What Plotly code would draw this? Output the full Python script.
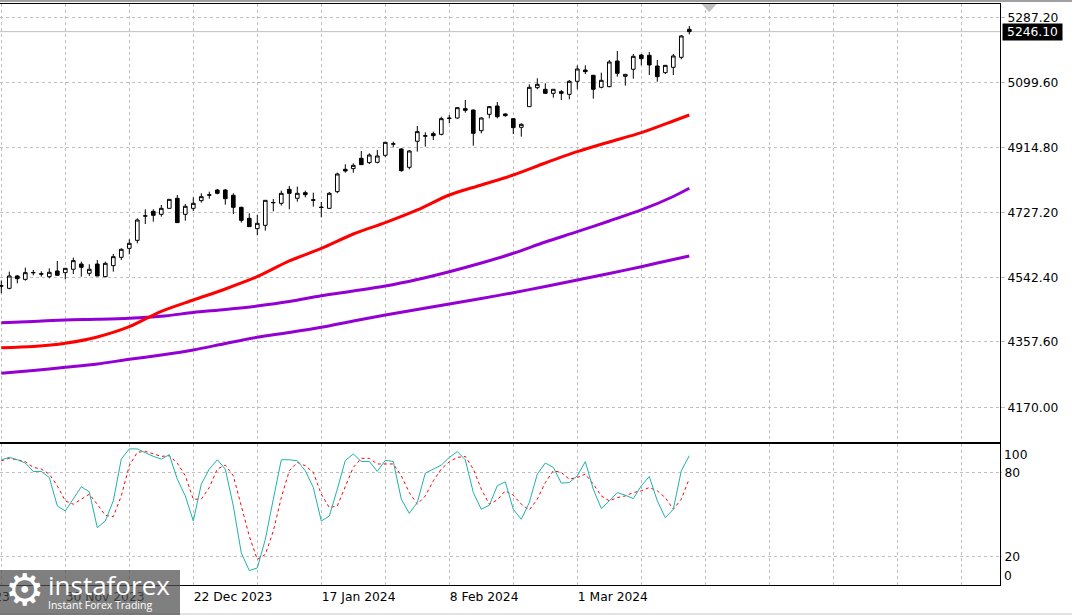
import plotly.graph_objects as go
from datetime import datetime

# ---------------- data ----------------
dates = [
    "2023-11-20", "2023-11-21", "2023-11-22", "2023-11-23", "2023-11-24", "2023-11-27", "2023-11-28", "2023-11-29",
    "2023-11-30", "2023-12-01", "2023-12-04", "2023-12-05", "2023-12-06", "2023-12-07", "2023-12-08",
    "2023-12-11", "2023-12-12", "2023-12-13", "2023-12-14", "2023-12-15", "2023-12-18", "2023-12-19",
    "2023-12-20", "2023-12-21", "2023-12-22", "2023-12-26", "2023-12-27", "2023-12-28", "2023-12-29",
    "2024-01-02", "2024-01-03", "2024-01-04", "2024-01-05", "2024-01-08", "2024-01-09", "2024-01-10",
    "2024-01-11", "2024-01-12", "2024-01-15", "2024-01-16", "2024-01-17", "2024-01-18", "2024-01-19",
    "2024-01-22", "2024-01-23", "2024-01-24", "2024-01-25", "2024-01-26", "2024-01-29", "2024-01-30",
    "2024-01-31", "2024-02-01", "2024-02-02", "2024-02-05", "2024-02-06", "2024-02-07", "2024-02-08",
    "2024-02-09", "2024-02-12", "2024-02-13", "2024-02-14", "2024-02-15", "2024-02-16", "2024-02-19",
    "2024-02-20", "2024-02-21", "2024-02-22", "2024-02-23", "2024-02-26", "2024-02-27", "2024-02-28",
    "2024-02-29", "2024-03-01", "2024-03-04", "2024-03-05", "2024-03-06", "2024-03-07", "2024-03-08",
    "2024-03-11", "2024-03-12", "2024-03-13", "2024-03-14", "2024-03-15", "2024-03-18", "2024-03-19",
    "2024-03-20", "2024-03-21",
]

opens = [
    4517.0, 4510.7, 4546.1, 4536.5, 4555.0, 4552.5, 4544.1, 4560.4, 4555.6, 4565.2,
    4580.4, 4553.7, 4580.4, 4544.1, 4575.7, 4599.5, 4625.3, 4648.2, 4717.5, 4731.3,
    4722.7, 4739.9, 4768.6, 4722.7, 4739.9, 4761.9, 4777.5, 4792.4, 4792.4, 4777.2,
    4742.8, 4711.3, 4681.7, 4691.2, 4755.7, 4754.2, 4794.4, 4768.6, 4784.8, 4764.3,
    4743.5, 4739.9, 4787.7, 4851.7, 4853.6, 4883.2, 4870.8, 4871.7, 4891.8, 4923.7,
    4909.9, 4857.4, 4931.9, 4946.7, 4953.8, 4951.9, 4997.3, 4998.7, 5025.5, 5021.6,
    4962.4, 5009.2, 5033.1, 5010.2, 4996.8, 4972.0, 5031.2, 5085.6, 5080.9, 5069.4,
    5074.2, 5066.5, 5103.8, 5136.2, 5121.0, 5086.6, 5088.5, 5162.0, 5118.1, 5138.2,
    5179.2, 5178.3, 5147.7, 5128.6, 5143.9, 5172.5, 5252.8,
]
highs = [
    4532.7, 4558.5, 4548.9, 4569.9, 4563.2, 4559.4, 4568.0, 4589.0, 4569.0, 4598.6,
    4587.1, 4579.5, 4591.9, 4587.1, 4609.1, 4625.3, 4651.1, 4711.3, 4737.1, 4737.1,
    4749.5, 4766.5, 4778.1, 4752.3, 4771.4, 4782.9, 4787.7, 4795.3, 4795.3, 4782.9,
    4744.7, 4725.6, 4720.8, 4763.5, 4766.7, 4790.5, 4803.9, 4802.0, 4790.5, 4784.8,
    4758.1, 4786.7, 4842.1, 4866.0, 4868.8, 4904.2, 4897.5, 4907.0, 4930.9, 4930.9,
    4912.8, 4907.0, 4975.8, 4957.7, 4959.6, 5002.5, 5007.3, 5029.3, 5050.3, 5022.6,
    5000.6, 5033.1, 5044.6, 5012.1, 4997.8, 4983.4, 5095.2, 5112.4, 5098.0, 5081.5,
    5078.9, 5107.6, 5149.6, 5149.6, 5122.0, 5128.6, 5164.9, 5190.7, 5124.8, 5182.1,
    5182.1, 5187.8, 5164.9, 5150.6, 5182.1, 5236.5, 5262.3,
]
lows = [
    4496.4, 4507.9, 4525.0, 4532.7, 4548.0, 4544.1, 4539.4, 4547.5, 4536.5, 4551.8,
    4544.1, 4546.1, 4545.5, 4542.2, 4558.5, 4591.9, 4608.1, 4639.6, 4695.0, 4701.7,
    4716.0, 4739.0, 4698.0, 4704.6, 4732.3, 4756.2, 4767.6, 4780.0, 4750.4, 4723.7,
    4698.9, 4686.8, 4662.6, 4675.9, 4731.3, 4747.6, 4737.1, 4759.0, 4771.4, 4744.7,
    4714.1, 4738.0, 4782.9, 4842.1, 4842.1, 4864.4, 4866.9, 4868.8, 4886.0, 4914.7,
    4845.0, 4851.7, 4902.3, 4916.6, 4935.7, 4949.1, 4983.4, 4996.8, 5014.0, 4919.5,
    4954.8, 4997.8, 4997.8, 5002.5, 4952.9, 4945.2, 5030.6, 5080.9, 5067.5, 5057.0,
    5050.3, 5052.2, 5080.9, 5124.8, 5054.1, 5083.7, 5086.6, 5117.1, 5091.4, 5111.4,
    5149.6, 5121.9, 5102.8, 5124.8, 5121.9, 5166.8, 5238.4,
]
closes = [
    4518.0, 4546.1, 4538.4, 4555.6, 4556.0, 4551.5, 4556.6, 4548.0, 4568.0, 4590.0,
    4570.9, 4565.2, 4546.1, 4582.3, 4601.4, 4622.5, 4639.6, 4706.5, 4718.5, 4719.9,
    4739.9, 4765.7, 4698.9, 4745.7, 4754.2, 4773.3, 4778.5, 4782.9, 4767.6, 4742.8,
    4705.5, 4687.4, 4696.9, 4762.8, 4756.7, 4782.9, 4782.9, 4782.9, 4779.1, 4763.3,
    4742.3, 4782.9, 4838.3, 4846.9, 4863.1, 4865.0, 4892.7, 4889.9, 4929.0, 4924.7,
    4847.8, 4904.2, 4959.6, 4947.7, 4948.1, 4996.8, 4998.3, 5028.3, 5020.7, 4954.8,
    4998.7, 5031.2, 5002.5, 5005.4, 4971.0, 4980.6, 5086.6, 5095.2, 5069.4, 5080.9,
    5069.4, 5103.8, 5139.1, 5131.5, 5080.9, 5106.6, 5159.2, 5126.7, 5123.8, 5175.4,
    5168.7, 5150.6, 5117.1, 5149.6, 5176.4, 5233.7, 5246.1,
]

# moving averages read every 4th bar (bar index -> value)
ma_bars = [0, 4, 8, 12, 16, 20, 24, 28, 32, 36, 40, 44, 48, 52, 56, 60, 64, 68, 72, 76, 80, 84, 86]
ma_fast = [4340.7, 4344.1, 4353.3, 4371.3, 4400.8, 4445.0, 4477.3, 4508.8, 4544.1, 4589.1, 4624.9, 4666.4,
           4698.8, 4735.2, 4778.1, 4806.8, 4835.4, 4869.8, 4902.2, 4930.0, 4956.6, 4990.1, 5007.3]
ma_mid = [4412.3, 4415.7, 4420.0, 4422.0, 4424.9, 4430.6, 4441.5, 4450.1, 4460.1, 4473.0, 4489.6, 4503.1,
          4517.4, 4536.1, 4558.4, 4583.3, 4611.1, 4643.5, 4673.0, 4703.7, 4735.2, 4773.8, 4797.3]
ma_slow = [4267.3, 4275.3, 4284.5, 4294.0, 4307.4, 4319.8, 4334.1, 4352.7, 4370.5, 4384.2, 4399.1, 4417.2,
           4434.4, 4450.1, 4465.9, 4481.6, 4498.2, 4516.0, 4534.6, 4553.3, 4572.7, 4593.4, 4603.4]

stoch_k = [
    89.0, 90.7, 89.0, 86.7, 80.7, 80.7, 76.4, 56.2, 52.6, 61.0,
    69.8, 66.2, 40.7, 45.5, 59.8, 89.5, 96.7, 96.7, 93.8, 91.4,
    89.5, 92.6, 75.2, 63.3, 45.5, 71.7, 82.4, 89.0, 82.4, 56.2,
    22.8, 10.2, 12.1, 32.4, 61.0, 89.0, 89.0, 88.3, 81.2, 69.3,
    45.5, 49.0, 68.1, 88.5, 93.1, 87.8, 87.8, 80.7, 88.6, 87.8,
    61.0, 50.9, 58.6, 79.5, 82.4, 85.2, 90.7, 94.8, 89.0, 65.7,
    53.8, 56.7, 70.5, 73.3, 53.8, 46.7, 58.6, 78.8, 86.7, 83.6,
    72.4, 72.8, 77.6, 87.6, 68.1, 54.3, 59.8, 65.7, 63.8, 61.4,
    70.5, 77.1, 59.8, 47.8, 53.8, 81.2, 91.9,
]
stoch_d = [
    88.3, 90.0, 89.0, 87.6, 83.6, 82.4, 78.8, 70.5, 59.8, 57.4,
    61.0, 64.5, 57.4, 49.5, 48.6, 63.3, 84.8, 94.3, 95.0, 93.1,
    91.4, 91.9, 86.7, 77.6, 61.0, 61.0, 69.3, 82.4, 85.2, 77.6,
    56.2, 34.8, 18.1, 21.7, 38.3, 62.1, 81.2, 87.1, 84.8, 80.0,
    64.5, 55.0, 56.2, 70.5, 83.6, 90.0, 90.0, 86.0, 86.0, 86.0,
    77.6, 65.7, 57.4, 63.3, 74.0, 82.4, 87.6, 90.7, 91.4, 82.4,
    68.1, 57.4, 60.5, 66.9, 63.8, 57.4, 53.3, 61.0, 72.8, 81.2,
    80.0, 75.2, 76.4, 78.8, 71.7, 63.3, 59.8, 62.1, 63.3, 65.7,
    66.9, 69.3, 66.9, 62.1, 53.8, 61.0, 75.7,
]

price_ticks = [5287.20, 5099.60, 4914.80, 4727.20, 4542.40, 4357.60, 4170.00]
stoch_ticks = [20, 80]
label_bars = [8, 24, 40, 56, 72]
hidden_label_bar = -8
hidden_label_text = "8 Nov 2023"

# ---------------- styling ----------------
GRID = "#c0c0c0"
DASH = "3px,3px"
FONT = "DejaVu Sans"
n = len(dates)
bars = list(range(n))
X0, X1 = -0.1625, 124.8375
Y0, Y1 = 4070.4, 5325.3
MAIN_DOM = [0.2461, 1.0]
STOCH_DOM = [0.0, 0.2422]


def fmt(d):
    dt = datetime.strptime(d, "%Y-%m-%d")
    return f"{dt.day} {dt.strftime('%b %Y')}"


grid_bars = list(range(0, 121, 8))
grid_text = [fmt(dates[b]) if b in label_bars else "" for b in grid_bars]


def xpaper(b):
    return (b - X0) / (X1 - X0)


fig = go.Figure()
fig.add_trace(go.Candlestick(
    x=bars, open=opens, high=highs, low=lows, close=closes,
    increasing=dict(line=dict(color="black", width=1), fillcolor="white"),
    decreasing=dict(line=dict(color="black", width=1), fillcolor="black"),
    whiskerwidth=0, xaxis="x", yaxis="y", showlegend=False, hoverinfo="skip",
))
ma_line = dict(width=3, shape="spline", smoothing=0.8)
fig.add_trace(go.Scatter(x=ma_bars, y=ma_slow, mode="lines", line=dict(color="#9400D3", **ma_line),
                         xaxis="x", yaxis="y", hoverinfo="skip"))
fig.add_trace(go.Scatter(x=ma_bars, y=ma_mid, mode="lines", line=dict(color="#9400D3", **ma_line),
                         xaxis="x", yaxis="y", hoverinfo="skip"))
fig.add_trace(go.Scatter(x=ma_bars, y=ma_fast, mode="lines", line=dict(color="#FF0000", **ma_line),
                         xaxis="x", yaxis="y", hoverinfo="skip"))
fig.add_trace(go.Scatter(x=bars, y=stoch_d, mode="lines", line=dict(color="#FF0000", width=1, dash="3px,3px"),
                         xaxis="x2", yaxis="y2", hoverinfo="skip"))
fig.add_trace(go.Scatter(x=bars, y=stoch_k, mode="lines", line=dict(color="#20B2AA", width=1),
                         xaxis="x2", yaxis="y2", hoverinfo="skip"))

axis_common = dict(showgrid=True, gridcolor=GRID, griddash=DASH, gridwidth=1, zeroline=False,
                   showline=True, linecolor="black", linewidth=1, fixedrange=True)

fig.update_layout(
    width=1072, height=615,
    margin=dict(l=0, r=72, t=4, b=30),
    paper_bgcolor="white", plot_bgcolor="white",
    showlegend=False, boxgap=0.35,
    font=dict(family=FONT, size=12, color="black"),
    xaxis=dict(domain=[0, 1], range=[X0, X1], anchor="y", tickvals=grid_bars, showticklabels=False,
               mirror=True, rangeslider=dict(visible=False), **axis_common),
    yaxis=dict(domain=MAIN_DOM, range=[Y0, Y1], anchor="x", side="right", tickvals=price_ticks,
               ticktext=[f"{v:.2f}" for v in price_ticks], ticks="outside", ticklen=4, tickcolor=GRID,
               tickfont=dict(family=FONT, size=12.3, color="black"), **axis_common),
    xaxis2=dict(domain=[0, 1], range=[X0, X1], anchor="y2", tickvals=grid_bars, ticktext=grid_text,
                ticklabelposition="outside right", ticks="", mirror=True,
                tickfont=dict(family=FONT, size=12.3, color="black"), rangeslider=dict(visible=False),
                **axis_common),
    yaxis2=dict(domain=STOCH_DOM, range=[0, 100], anchor="x2", side="right", tickvals=stoch_ticks,
                ticktext=[str(v) for v in stoch_ticks], ticks="outside", ticklen=1, tickcolor=GRID,
                tickfont=dict(family=FONT, size=12.3, color="black"), **axis_common),
)

shapes = [
    # current price line
    dict(type="line", xref="paper", yref="y", x0=0, x1=1, y0=closes[-1], y1=closes[-1],
         line=dict(color=GRID, width=1), layer="below"),
    # chart-shift marker
    dict(type="path", xref="x", yref="paper", path="M 87.55,1.0 L 89.42,1.0 L 88.49,0.9857 Z",
         fillcolor="#c0c0c0", line=dict(width=0)),
    # window frame strips
    dict(type="rect", xref="paper", yref="paper", x0=0, x1=1.072, y0=1.0034, y1=1.0069,
         fillcolor="#a0a0a0", line=dict(width=0)),
    dict(type="rect", xref="paper", yref="paper", x0=0, x1=1.072, y0=-0.0516, y1=-0.0482,
         fillcolor="#e3e3e3", line=dict(width=0)),
    # logo plate
    dict(type="rect", xref="paper", yref="paper", x0=0, x1=0.18, y0=-0.06, y1=0.0258,
         fillcolor="rgba(80,80,80,0.73)", line=dict(width=0), layer="above"),
]

annotations = [
    dict(xref="paper", yref="y", x=1, y=closes[-1], xanchor="left", yanchor="middle", xshift=2,
         text=f"{closes[-1]:.2f}", showarrow=False, bgcolor="black", borderpad=1, width=57,
         font=dict(family=FONT, size=12.3, color="white")),
    dict(xref="paper", yref="y2", x=1, y=92.6, xanchor="left", yanchor="middle", xshift=2,
         text="100", showarrow=False, font=dict(family=FONT, size=12.3, color="black")),
    dict(xref="paper", yref="y2", x=1, y=6.1, xanchor="left", yanchor="middle", xshift=2,
         text="0", showarrow=False, font=dict(family=FONT, size=12.3, color="black")),
    dict(xref="paper", yref="paper", x=xpaper(hidden_label_bar), y=-0.006, xanchor="left", yanchor="top",
         text=hidden_label_text, showarrow=False, font=dict(family=FONT, size=12.3, color="#333333")),
    # logo
    dict(xref="paper", yref="paper", x=0.024, y=-0.008, xanchor="center", yanchor="middle",
         text="\u2699", showarrow=False, font=dict(family="DejaVu Sans", size=44, color="white")),
    dict(xref="paper", yref="paper", x=0.046, y=0.0, xanchor="left", yanchor="middle",
         text="instaforex", showarrow=False, font=dict(family="Open Sans", size=26, color="white")),
    dict(xref="paper", yref="paper", x=0.046, y=-0.035, xanchor="left", yanchor="middle",
         text="Instant Forex Trading", showarrow=False, font=dict(family="Open Sans", size=10.5, color="white")),
]

fig.update_layout(shapes=shapes, annotations=annotations)
fig.write_html("out.html", config={"displayModeBar": False})
